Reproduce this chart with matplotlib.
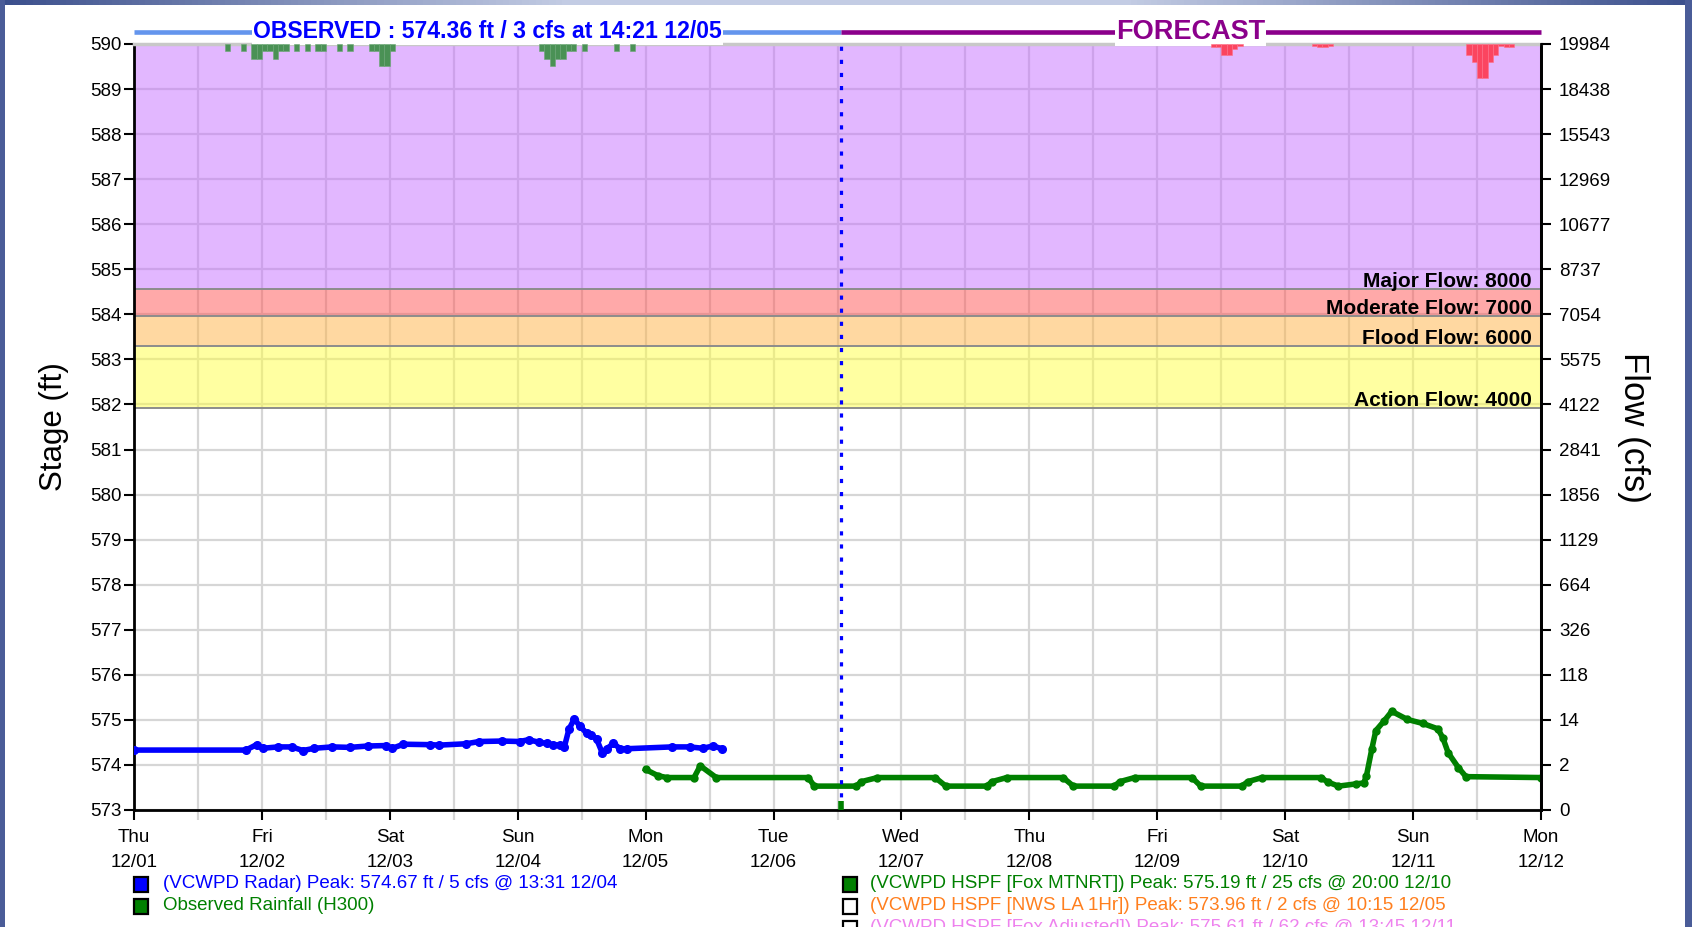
import matplotlib
matplotlib.use("Agg")
import matplotlib.pyplot as plt
import matplotlib.dates as mdates
from matplotlib.patches import Rectangle
from matplotlib.transforms import blended_transform_factory
from matplotlib.colors import LinearSegmentedColormap
import numpy as np
import pandas as pd

plt.rcParams['font.family'] = ['Liberation Sans', 'DejaVu Sans']

YEAR = "2022-"


def T(lst):
    return pd.to_datetime([YEAR + s for s in lst], format="%Y-%m/%d %H:%M")


# ---------------- data ----------------
x_start = "12/01 00:00"
x_end = "12/12 00:00"
now_time = "12/06 12:35"

stage_ticks = [573, 574, 575, 576, 577, 578, 579, 580, 581, 582, 583, 584,
               585, 586, 587, 588, 589, 590]
flow_tick_labels = ["0", "2", "14", "118", "326", "664", "1129", "1856",
                    "2841", "4122", "5575", "7054", "8737", "10677", "12969",
                    "15543", "18438", "19984"]

flood_names = ["Action Flow: 4000", "Flood Flow: 6000",
               "Moderate Flow: 7000", "Major Flow: 8000"]
flood_stages = [581.93, 583.30, 583.96, 584.56]
flood_colors = ["#ffff44", "#ffb345", "#ff5555", "#c670ff"]

obs_times = ["12/01 00:00", "12/01 21:00", "12/01 23:00", "12/02 00:10",
             "12/02 03:00", "12/02 05:36", "12/02 07:42", "12/02 09:50",
             "12/02 13:10", "12/02 16:30", "12/02 19:50", "12/02 23:12",
             "12/03 00:28", "12/03 02:34", "12/03 07:36", "12/03 09:17",
             "12/03 14:18", "12/03 16:48", "12/03 21:00", "12/04 00:22",
             "12/04 02:02", "12/04 04:05", "12/04 05:24", "12/04 06:39",
             "12/04 07:55", "12/04 08:45", "12/04 09:36", "12/04 10:36",
             "12/04 11:41", "12/04 12:58", "12/04 13:47", "12/04 14:47",
             "12/04 15:53", "12/04 16:43", "12/04 17:58", "12/04 19:13",
             "12/04 20:30", "12/05 04:52", "12/05 08:14", "12/05 10:45",
             "12/05 12:36", "12/05 14:21"]
obs_stage = [574.33, 574.33, 574.45, 574.37,
             574.40, 574.40, 574.32, 574.37,
             574.40, 574.39, 574.42, 574.43,
             574.37, 574.46, 574.45, 574.44,
             574.47, 574.52, 574.53, 574.52,
             574.56, 574.50, 574.48, 574.45,
             574.44, 574.40, 574.79, 575.02,
             574.86, 574.70, 574.67, 574.58,
             574.26, 574.36, 574.48, 574.36,
             574.36, 574.40, 574.40, 574.37,
             574.42, 574.36]

fc_times = ["12/05 00:00", "12/05 02:20", "12/05 04:00", "12/05 09:05",
            "12/05 10:15", "12/05 13:15", "12/06 06:30", "12/06 07:40",
            "12/06 15:30", "12/06 16:30", "12/06 19:30", "12/07 06:20",
            "12/07 08:20", "12/07 16:00", "12/07 17:00", "12/07 19:45",
            "12/08 06:20", "12/08 08:15", "12/08 15:55", "12/08 17:00",
            "12/08 19:45", "12/09 06:30", "12/09 08:10", "12/09 15:50",
            "12/09 17:00", "12/09 19:40", "12/10 06:40", "12/10 08:00",
            "12/10 10:00", "12/10 13:20", "12/10 14:45", "12/10 15:15",
            "12/10 16:15", "12/10 17:00", "12/10 18:35", "12/10 20:00",
            "12/10 22:55", "12/11 01:50", "12/11 04:40", "12/11 05:35",
            "12/11 06:35", "12/11 08:30", "12/11 09:55", "12/12 00:00"]
fc_stage = [573.90, 573.76, 573.72, 573.72,
            573.98, 573.72, 573.72, 573.53,
            573.53, 573.63, 573.72, 573.72,
            573.53, 573.53, 573.63, 573.72,
            573.72, 573.53, 573.53, 573.63,
            573.72, 573.72, 573.53, 573.53,
            573.63, 573.72, 573.72, 573.62,
            573.53, 573.58, 573.60, 573.76,
            574.35, 574.76, 574.98, 575.19,
            575.01, 574.92, 574.80, 574.60,
            574.27, 573.94, 573.74, 573.72]

obs_rain_times = ["12/01 17:00", "12/01 20:00", "12/01 22:00", "12/01 23:00",
                  "12/02 00:00", "12/02 01:00", "12/02 02:00", "12/02 03:00",
                  "12/02 04:00", "12/02 06:00", "12/02 08:00", "12/02 10:00",
                  "12/02 11:00", "12/02 14:00", "12/02 16:00", "12/02 20:00",
                  "12/02 21:00", "12/02 22:00", "12/02 23:00", "12/03 00:00",
                  "12/04 04:00", "12/04 05:00", "12/04 06:00", "12/04 07:00",
                  "12/04 08:00", "12/04 09:00", "12/04 10:00", "12/04 12:00",
                  "12/04 18:00", "12/04 21:00"]
obs_rain = [0.01, 0.01, 0.02, 0.02, 0.01, 0.01, 0.02, 0.01, 0.01, 0.01,
            0.01, 0.01, 0.01, 0.01, 0.01, 0.01, 0.01, 0.03, 0.03, 0.01,
            0.01, 0.02, 0.03, 0.02, 0.02, 0.01, 0.01, 0.01, 0.01, 0.01]

fc_rain_times = ["12/09 10:00", "12/09 11:00", "12/09 12:00", "12/09 13:00",
                 "12/09 14:00", "12/09 15:00", "12/10 05:00", "12/10 06:00",
                 "12/10 07:00", "12/10 08:00", "12/11 10:00", "12/11 11:00",
                 "12/11 12:00", "12/11 13:00", "12/11 14:00", "12/11 15:00",
                 "12/11 16:00", "12/11 17:00", "12/11 18:00"]
fc_rain = [0.0045, 0.0045, 0.0146, 0.0146, 0.0068, 0.003, 0.0023, 0.0045,
           0.0045, 0.0023, 0.0146, 0.025, 0.046, 0.046, 0.025, 0.0146,
           0.003, 0.004, 0.004]

obs_title = "OBSERVED : 574.36 ft / 3 cfs at 14:21 12/05"
fc_title = "FORECAST"

legend_left = [("(VCWPD Radar) Peak: 574.67 ft / 5 cfs @ 13:31 12/04", "#0000ff", True),
               ("Observed Rainfall (H300)", "#008000", True)]
legend_right = [("(VCWPD HSPF [Fox MTNRT]) Peak: 575.19 ft / 25 cfs @ 20:00 12/10", "#008000", True),
                ("(VCWPD HSPF [NWS LA 1Hr]) Peak: 573.96 ft / 2 cfs @ 10:15 12/05", "#ff7f1e", False),
                ("(VCWPD HSPF [Fox Adjusted]) Peak: 575.61 ft / 62 cfs @ 13:45 12/11", "#ee82ee", False)]

# ---------------- figure ----------------
W, H = 1692, 927
fig = plt.figure(figsize=(W / 100, H / 100), dpi=100, facecolor="white")
ax_l, ax_r, ax_t, ax_b = 134, 1541, 44, 810
ax = fig.add_axes([ax_l / W, 1 - ax_b / H, (ax_r - ax_l) / W, (ax_b - ax_t) / H])

t0 = T([x_start])[0]
t1 = T([x_end])[0]
tnow = T([now_time])[0]

ax.set_xlim(t0, t1)
ax.set_ylim(573, 590)
ax.set_axisbelow(True)

# grid
ax.xaxis.set_major_locator(mdates.DayLocator())
ax.xaxis.set_minor_locator(mdates.HourLocator(byhour=[12]))
ax.xaxis.set_major_formatter(mdates.DateFormatter("%a\n%m/%d"))
ax.set_yticks(stage_ticks)
ax.grid(True, which="both", axis="x", color="#d6d6d6", lw=1.6)
ax.grid(True, which="major", axis="y", color="#d6d6d6", lw=1.6)

# flood bands
edges = flood_stages + [590]
for i in range(len(flood_stages)):
    ax.axhspan(edges[i], edges[i + 1], color=flood_colors[i], alpha=0.5, lw=0, zorder=1)
for i, (nm, st) in enumerate(zip(flood_names, flood_stages)):
    ax.axhline(st, color="#8c8c8c", lw=1.4, zorder=1.5)
    ax.text(0.9935, st + 0.045, nm, transform=blended_transform_factory(ax.transAxes, ax.transData),
            ha="right", va="baseline", fontsize=15, fontweight="bold", color="black", zorder=3)

# series
ax.plot(T(obs_times), obs_stage, color="#0000ff", lw=4, marker="o", ms=5.5, zorder=5)
ax.plot(T(fc_times), fc_stage, color="#008000", lw=4, marker="o", ms=5, zorder=5)

# now line
ax.axvline(tnow, color="#0000ff", lw=2.3, ls=(0, (1.3, 2.8)), zorder=6)
ax.plot([tnow, tnow], [573, 573.2], color="#008000", lw=4, zorder=6, solid_capstyle="butt")

# spines & ticks
for s in ["left", "bottom", "right"]:
    ax.spines[s].set_color("black")
    ax.spines[s].set_linewidth(2)
ax.spines["top"].set_color("#c8c8c8")
ax.spines["top"].set_linewidth(2.5)
ax.tick_params(axis="y", which="major", length=7, width=1.5, labelsize=13.5, pad=2)
ax.tick_params(axis="x", which="major", length=7, width=1.5, labelsize=13.5, pad=7)
ax.tick_params(axis="x", which="minor", length=7, width=1.6, color="#d6d6d6")
ax.set_ylabel("Stage (ft)", fontsize=22.5, labelpad=15)
for lab in ax.get_xticklabels():
    lab.set_linespacing(1.6)

# right flow axis
ax2 = ax.twinx()
ax2.set_ylim(573, 590)
ax2.set_yticks(stage_ticks)
ax2.set_yticklabels(flow_tick_labels)
ax2.tick_params(axis="y", length=7, width=1.5, labelsize=13.5, pad=6)
for s in ["left", "bottom", "top"]:
    ax2.spines[s].set_visible(False)
ax2.spines["right"].set_linewidth(2)
ax2.set_ylabel("Flow (cfs)", fontsize=25, rotation=270, labelpad=28)

# rainfall axis (hidden, inverted from top)
ax3 = ax.twinx()
ax3.set_ylim(1.05, 0)
ax3.set_axis_off()
hour = pd.Timedelta(hours=1)
ax3.bar(T(obs_rain_times), obs_rain, width=hour, align="edge",
        color="#4a9155", edgecolor="#6aa874", lw=0.4, zorder=2)
ax3.bar(T(fc_rain_times), fc_rain, width=hour, align="edge",
        color="#fb4560", edgecolor="#ff7088", lw=0.4, zorder=2)
ax3.set_xlim(t0, t1)

# section titles
btr = blended_transform_factory(ax.transData, ax.transAxes)
yline = 1 + (ax_t - 32) / (ax_b - ax_t)
ax.plot([t0, tnow], [yline, yline], color="#6495ed", lw=3.3, transform=btr, clip_on=False,
        solid_capstyle="butt")
ax.plot([tnow, t1], [yline, yline], color="#8b008b", lw=3.3, transform=btr, clip_on=False,
        solid_capstyle="butt")
ax.text(t0 + (tnow - t0) / 2, yline, obs_title, transform=btr, ha="center", va="center",
        fontsize=16.6, fontweight="bold", color="#0000ff",
        bbox=dict(facecolor="white", edgecolor="none", pad=1.0))
ax.text(tnow + (t1 - tnow) / 2, yline, fc_title, transform=btr, ha="center", va="center",
        fontsize=19.5, fontweight="bold", color="#8b008b",
        bbox=dict(facecolor="white", edgecolor="none", pad=0.5))

# legend below
def legend_column(items, xsq, xtxt):
    for k, (txt, col, filled) in enumerate(items):
        yc = 884 + 22 * k
        fig.add_artist(Rectangle((xsq / W, 1 - (yc + 7.5) / H), 14 / W, 15 / H,
                                 transform=fig.transFigure,
                                 facecolor=col if filled else "white",
                                 edgecolor="black", lw=1.6))
        fig.text(xtxt / W, 1 - yc / H, txt, color=col, fontsize=13.5,
                 ha="left", va="center")

legend_column(legend_left, 134, 163)
legend_column(legend_right, 843, 870)

# window border
bc = "#4a5c98"
fig.add_artist(Rectangle((0, 0), 5 / W, 1, transform=fig.transFigure, color=bc, lw=0))
fig.add_artist(Rectangle((1 - 7 / W, 0), 7 / W, 1, transform=fig.transFigure, color=bc, lw=0))
top = fig.add_axes([0, 1 - 5 / H, 1, 5 / H])
cmap = LinearSegmentedColormap.from_list("tb", ["#3b4f8c", "#c3cce4", "#c3cce4", "#3b4f8c"])
top.imshow(np.linspace(0, 1, 256)[None, :], aspect="auto", cmap=cmap)
top.set_axis_off()

fig.savefig("out.png", dpi=100, facecolor="white")
